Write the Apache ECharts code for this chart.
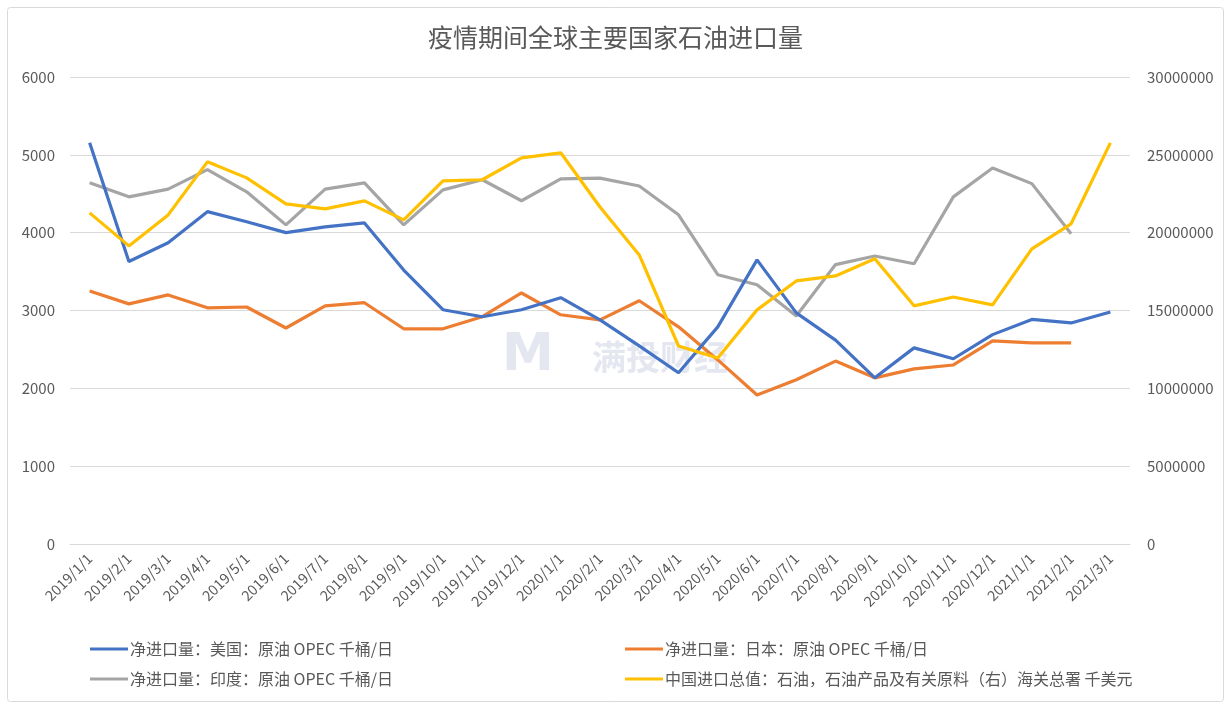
<!DOCTYPE html>
<html>
<head>
<meta charset="utf-8">
<script src="https://cdn.jsdelivr.net/npm/echarts@6/dist/echarts.min.js"></script>
<style>
html,body{margin:0;padding:0;background:#fff;}
#c{width:1231px;height:707px;}
</style>
</head>
<body>
<div id="c"></div>
<script>
const categories = ['2019/1/1','2019/2/1','2019/3/1','2019/4/1','2019/5/1','2019/6/1','2019/7/1','2019/8/1','2019/9/1','2019/10/1','2019/11/1','2019/12/1','2020/1/1','2020/2/1','2020/3/1','2020/4/1','2020/5/1','2020/6/1','2020/7/1','2020/8/1','2020/9/1','2020/10/1','2020/11/1','2020/12/1','2021/1/1','2021/2/1','2021/3/1'];
const usImports = [5155,3630,3870,4270,4140,4000,4075,4125,3520,3010,2920,3010,3165,2880,2545,2200,2790,3650,2970,2620,2135,2520,2380,2690,2885,2840,2980];
const japanImports = [3250,3085,3200,3035,3045,2775,3060,3100,2765,2765,2920,3225,2945,2880,3125,2790,2365,1915,2110,2350,2135,2250,2300,2610,2585,2585,null];
const indiaImports = [4640,4460,4560,4810,4525,4100,4560,4640,4100,4550,4680,4410,4690,4700,4600,4230,3460,3330,2930,3590,3700,3600,4460,4830,4630,3985,null];
const chinaImportValue = [21270000,19150000,21140000,24550000,23520000,21850000,21530000,22040000,20820000,23330000,23400000,24810000,25130000,21650000,18570000,12720000,11950000,15040000,16900000,17220000,18320000,15300000,15870000,15360000,18960000,20570000,25770000];
const seriesNames = ['净进口量：美国：原油 OPEC 千桶/日','净进口量：日本：原油 OPEC 千桶/日','净进口量：印度：原油 OPEC 千桶/日','中国进口总值：石油，石油产品及有关原料（右）海关总署 千美元'];
const leftTicks = {min:0, max:6000, interval:1000};
const rightTicks = {min:0, max:30000000, interval:5000000};

const font = '"Noto Sans CJK SC", "Noto Sans", sans-serif';
const txt = '#595959';
const chart = echarts.init(document.getElementById('c'), null, {renderer:'canvas'});
const colors = ['#4472C4','#ED7D31','#A5A5A5','#FFC000'];
const legendCommon = {
  orient:'vertical', itemWidth:38, itemHeight:3, itemGap:14, icon:'rect',
  textStyle:{color:txt, fontSize:16, fontFamily:font, padding:[0,0,0,-3]}
};
chart.setOption({
  color: colors,
  animation:false,
  title:{text:'疫情期间全球主要国家石油进口量', left:'center', top:20,
    textStyle:{color:txt, fontSize:25, fontWeight:'normal', fontFamily:font}},
  graphic:[
    {type:'rect', shape:{x:7.5,y:7.5,width:1216,height:694, r:3}, style:{fill:'none', stroke:'#d9d9d9', lineWidth:1}, z:-10},
    {type:'text', left:592, top:340, style:{text:'满投财经', fill:'rgba(205,210,228,0.55)', font:'bold 34px "Noto Sans CJK SC"'}, z:-5},
    {type:'text', left:502, top:330, style:{text:'M', fill:'rgba(205,210,228,0.55)', font:'bold 52px "DejaVu Sans"'}, z:-5}
  ],
  legend:[
    Object.assign({left:85, top:636, data:[seriesNames[0], seriesNames[2]]}, legendCommon),
    Object.assign({left:620, top:636, data:[seriesNames[1], seriesNames[3]]}, legendCommon)
  ],
  grid:{left:70, right:101, top:77, bottom:163, containLabel:false},
  xAxis:{type:'category', data:categories, boundaryGap:true,
    axisLine:{lineStyle:{color:'#d9d9d9'}}, axisTick:{show:false},
    axisLabel:{rotate:45, color:txt, fontSize:14.5, fontFamily:font, margin:12, interval:0}},
  yAxis:[
    {type:'value', min:leftTicks.min, max:leftTicks.max, interval:leftTicks.interval,
      axisLine:{show:false}, axisTick:{show:false},
      axisLabel:{color:txt, fontSize:15, fontFamily:font, margin:15, formatter:v=>String(v)},
      splitLine:{lineStyle:{color:'#d9d9d9', width:1}}},
    {type:'value', min:rightTicks.min, max:rightTicks.max, interval:rightTicks.interval,
      axisLine:{show:false}, axisTick:{show:false},
      axisLabel:{color:txt, fontSize:15, fontFamily:font, margin:17, formatter:v=>String(v)},
      splitLine:{show:false}}
  ],
  series:[
    {name:seriesNames[0], type:'line', data:usImports, yAxisIndex:0, symbol:'none', lineStyle:{width:3.2}, z:4},
    {name:seriesNames[1], type:'line', data:japanImports, yAxisIndex:0, symbol:'none', lineStyle:{width:3.2}, z:3},
    {name:seriesNames[2], type:'line', data:indiaImports, yAxisIndex:0, symbol:'none', lineStyle:{width:3.2}, z:2},
    {name:seriesNames[3], type:'line', data:chinaImportValue, yAxisIndex:1, symbol:'none', lineStyle:{width:3.2}, z:5}
  ]
});
</script>
</body>
</html>
